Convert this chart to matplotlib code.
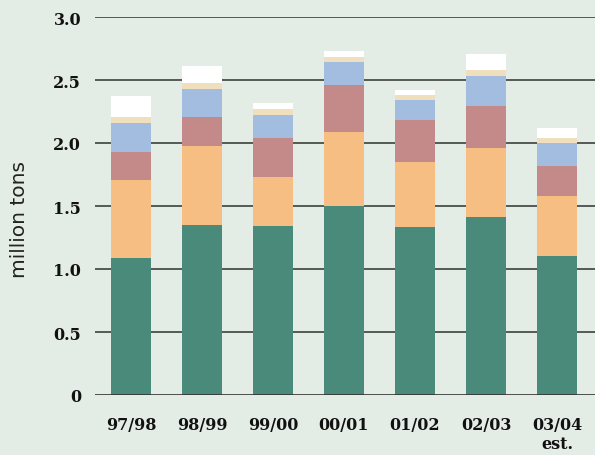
import matplotlib
matplotlib.use("Agg")
from matplotlib import pyplot as plt
import numpy as np

# seasons on the x axis
seasons = ["97/98", "98/99", "99/00", "00/01", "01/02", "02/03", "03/04\nest."]

# stack segments, million tons
green = [1.09, 1.35, 1.34, 1.50, 1.33, 1.41, 1.10]
orange = [0.62, 0.63, 0.39, 0.59, 0.52, 0.55, 0.48]
red = [0.22, 0.23, 0.31, 0.37, 0.33, 0.33, 0.24]
blue = [0.23, 0.22, 0.18, 0.18, 0.16, 0.24, 0.18]
beige = [0.05, 0.05, 0.05, 0.04, 0.04, 0.05, 0.04]
white = [0.16, 0.13, 0.05, 0.05, 0.04, 0.13, 0.08]

layers = [green, orange, red, blue, beige, white]
colors = ["#4a8a7a", "#f7be83", "#c48a8a", "#a3bde1", "#f0dfbc", "#ffffff"]

bg = "#e4ece6"
fig = plt.figure(figsize=(5.95, 4.56), dpi=100, facecolor=bg)
ax = fig.add_axes([95 / 595, 60 / 456, 500 / 595, 378 / 456], facecolor=bg)

x = np.arange(len(seasons))
bottom = np.zeros(len(seasons))
for vals, c in zip(layers, colors):
    ax.bar(x, vals, width=0.563, bottom=bottom, color=c, zorder=3)
    bottom += np.array(vals)

ax.set_xlim(-0.507, -0.507 + 500 / 71)
ax.set_ylim(0, 3.0)
yt = [0, 0.5, 1.0, 1.5, 2.0, 2.5, 3.0]
ax.set_yticks(yt)
ax.set_yticklabels(["0", "0.5", "1.0", "1.5", "2.0", "2.5", "3.0"])
for v in yt[1:]:
    ax.axhline(v, color="#555a57", lw=1.4, zorder=1)
ax.axhline(0, color="#333333", lw=1.2, zorder=4)

ax.set_xticks(x)
ax.set_xticklabels(seasons)
for s in ax.spines.values():
    s.set_visible(False)
ax.tick_params(axis="both", length=0)
ax.tick_params(axis="y", pad=10)
ax.tick_params(axis="x", pad=15)
for lab in ax.get_xticklabels() + ax.get_yticklabels():
    lab.set_fontfamily("DejaVu Serif")
    lab.set_fontweight("bold")
    lab.set_fontsize(11.5)
    lab.set_color("#111111")
ax.get_xticklabels()[-1].set_linespacing(1.15)

fig.text(20 / 595, 237 / 456, "million tons", rotation=90, ha="center", va="center",
         fontsize=14.5, fontfamily="DejaVu Sans", color="#222222")

fig.savefig("out.png", dpi=100, facecolor=bg)
